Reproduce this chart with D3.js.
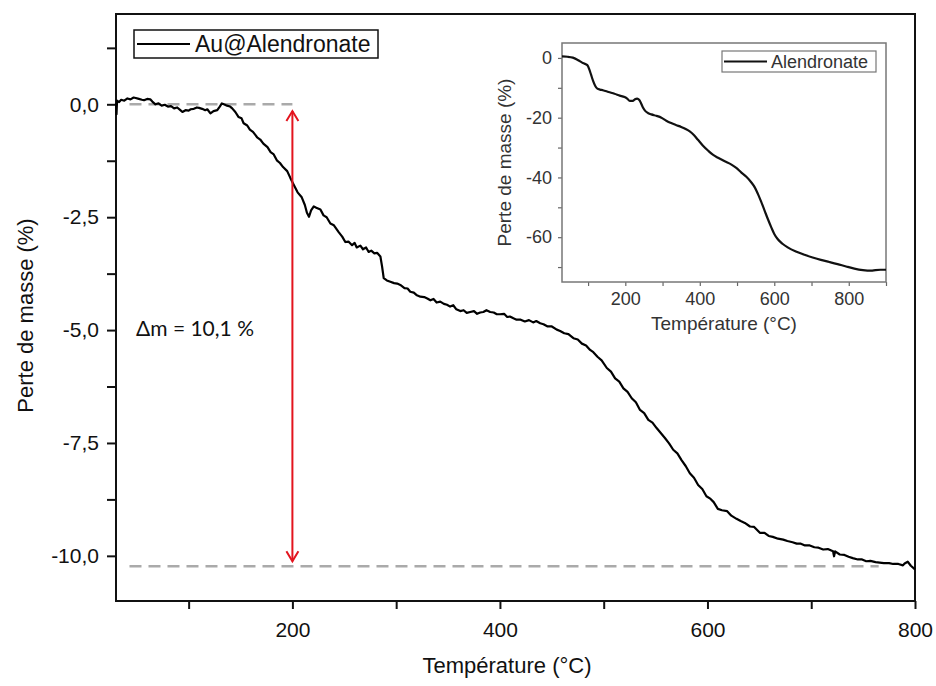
<!DOCTYPE html>
<html lang="fr">
  <head>
    <meta charset="UTF-8" />
    <title>ATG Au@Alendronate</title>
    <style>
      body { margin: 0; background: #fff; }
      svg { display: block; font-family: "Liberation Sans", Arial, sans-serif; }
    </style>
  </head>
  <body>
    <svg id="chart" width="936" height="686"></svg>
    <script src="https://cdn.jsdelivr.net/npm/d3@7"></script>
    <script>
      // courbe principale Au@Alendronate (T en °C, perte en %)
      const mainTemp = [30, 30.5, 31, 33, 35, 38, 41, 44, 47, 49, 52, 55, 57, 60, 63, 65, 68, 71, 74, 77, 80, 83, 86, 89, 92, 94, 97, 100, 102, 105, 108, 110, 113, 116, 118, 121, 124, 127.6, 130, 132, 134, 137, 140, 142, 145, 148, 151, 153, 156.5, 159, 162, 166, 169, 172, 176, 179, 182, 185, 188, 191, 195, 198, 201, 205, 209, 212, 214, 216, 218, 220.6, 223, 227, 230, 233, 236.6, 240, 244.6, 248, 251, 254, 257.5, 260, 262, 265.5, 268, 271, 273.5, 276, 279, 281.6, 284.8, 286.4, 288, 291, 294.4, 298, 301, 304, 308, 311, 313.6, 317, 320, 323.3, 327, 330, 333, 336, 339, 342.5, 346, 349, 352, 355, 358, 361.8, 365, 368, 371.4, 375, 378, 381, 384, 387, 390.6, 394, 397, 400, 404, 407, 409.6, 413, 416, 420, 424, 428, 432, 435, 438.8, 442, 446, 450, 454.8, 458, 462, 466, 470.8, 475, 479, 483, 486.9, 490, 494, 498, 503, 507, 511, 515, 519, 523, 527, 531, 535, 539, 543, 547, 551, 555, 559, 563, 567, 571, 575, 579, 583, 587, 591, 595, 599, 603, 606, 610, 614, 619, 623, 628, 632, 636, 641, 645, 650.5, 655, 659, 663, 668, 673, 677, 682, 686, 690, 694, 698.6, 703, 707, 711.5, 716, 721, 722, 723, 727.5, 732, 736, 740, 745, 749, 753, 757, 762, 766, 770, 775, 779, 784, 788.4, 790, 793, 796, 800];
      const mainMass = [0.02, -0.22, 0.08, 0.05, 0.10, 0.08, 0.13, 0.11, 0.15, 0.14, 0.12, 0.10, 0.09, 0.12, 0.11, 0.06, 0.0, 0.02, -0.03, -0.01, -0.05, -0.04, -0.09, -0.07, -0.13, -0.17, -0.13, -0.14, -0.11, -0.10, -0.07, -0.08, -0.10, -0.13, -0.11, -0.20, -0.15, -0.13, -0.05, 0.02, 0.0, -0.03, -0.05, -0.09, -0.17, -0.28, -0.31, -0.42, -0.47, -0.56, -0.61, -0.73, -0.78, -0.87, -0.95, -1.06, -1.11, -1.24, -1.30, -1.39, -1.48, -1.63, -1.77, -1.95, -2.06, -2.23, -2.40, -2.49, -2.35, -2.26, -2.29, -2.33, -2.46, -2.50, -2.64, -2.68, -2.83, -2.93, -3.05, -3.04, -3.12, -3.07, -3.17, -3.13, -3.21, -3.17, -3.27, -3.24, -3.30, -3.29, -3.37, -3.59, -3.85, -3.90, -3.93, -3.96, -3.97, -4.0, -4.07, -4.08, -4.15, -4.17, -4.23, -4.26, -4.27, -4.30, -4.34, -4.31, -4.39, -4.37, -4.42, -4.44, -4.48, -4.45, -4.54, -4.58, -4.56, -4.62, -4.60, -4.58, -4.64, -4.61, -4.60, -4.56, -4.60, -4.61, -4.65, -4.65, -4.64, -4.71, -4.70, -4.74, -4.77, -4.77, -4.81, -4.78, -4.83, -4.80, -4.85, -4.87, -4.92, -4.92, -4.99, -5.02, -5.07, -5.09, -5.18, -5.21, -5.30, -5.34, -5.44, -5.49, -5.59, -5.67, -5.84, -5.92, -6.07, -6.14, -6.29, -6.37, -6.51, -6.60, -6.77, -6.84, -6.99, -7.05, -7.17, -7.28, -7.39, -7.51, -7.65, -7.73, -7.88, -8.01, -8.17, -8.27, -8.43, -8.52, -8.68, -8.74, -8.81, -8.96, -8.99, -9.01, -9.11, -9.18, -9.23, -9.27, -9.35, -9.36, -9.49, -9.49, -9.56, -9.58, -9.62, -9.64, -9.67, -9.70, -9.73, -9.73, -9.77, -9.77, -9.81, -9.82, -9.86, -9.85, -9.90, -10.01, -9.90, -9.97, -9.98, -10.02, -10.05, -10.08, -10.08, -10.12, -10.11, -10.14, -10.15, -10.16, -10.16, -10.18, -10.18, -10.21, -10.17, -10.13, -10.22, -10.30];

      // encart : Alendronate seul
      const insetTemp = [30, 45, 59, 70, 77, 88, 98, 104, 108, 113, 119, 125, 132, 140, 155, 171, 185, 198, 205, 212, 220, 226, 232, 237, 241, 247, 254, 262, 270, 284, 297, 310, 323, 337, 350, 362, 373, 384, 395, 408, 422, 435, 449, 467, 485, 498, 511, 525, 538, 548, 556, 565, 574, 583, 592, 600, 609, 622, 636, 658, 681, 703, 725, 748, 770, 793, 815, 838, 860, 872, 885, 900];
      const insetMass = [0.5, 0.4, 0.1, -0.5, -1.0, -1.8, -2.4, -4.1, -5.6, -7.5, -9.3, -10.3, -10.6, -10.8, -11.4, -12.0, -12.6, -13.1, -13.6, -14.4, -14.4, -13.8, -13.6, -14.0, -14.8, -16.5, -17.8, -18.5, -18.9, -19.4, -20.0, -21.0, -21.8, -22.5, -23.1, -23.8, -24.6, -25.8, -27.4, -29.3, -31.0, -32.4, -33.4, -34.6, -35.7, -36.8, -38.3, -39.8, -41.6, -43.4, -45.5, -48.2, -51.1, -54.0, -56.7, -58.9, -60.6, -62.2, -63.4, -64.8, -65.9, -66.8, -67.6, -68.3, -69.0, -69.8, -70.5, -71.0, -71.2, -71.0, -70.9, -70.9];

      const mainXTicks = [100, 200, 300, 400, 500, 600, 700, 800];
      const mainYTicks = [1.25, 0, -1.25, -2.5, -3.75, -5, -6.25, -7.5, -8.75, -10];
      const insetXTicks = [100, 200, 300, 400, 500, 600, 700, 800, 900];
      const insetYTicks = [0, -10, -20, -30, -40, -50, -60, -70];

      // annotations
      const massStart = 0;        // palier haut
      const massEnd = -10.23;     // palier bas
      const arrowTemp = 200;
      const deltaLabel = "Δm = 10,1 %";

      const fr = d3.formatLocale({ decimal: ",", thousands: " ", grouping: [3], currency: ["", "€"], minus: "-" });
      const fmt1 = fr.format(".1f");
      const fmt0 = fr.format("d");

      const svg = d3.select("#chart");

      // ---- graphique principal ----
      const M = { left: 116, right: 915, top: 14, bottom: 601 };
      const x = d3.scaleLinear().domain([30, 800]).range([M.left, M.right]);
      const y = d3.scaleLinear().domain([-11, 2]).range([M.bottom, M.top]);

      const xAxis = d3.axisBottom(x).tickValues(mainXTicks).tickSize(8).tickPadding(13)
        .tickFormat(d => d % 200 === 0 ? d : "");
      const yAxis = d3.axisLeft(y).tickValues(mainYTicks).tickSize(9).tickPadding(8)
        .tickFormat(d => (d * 10) % 25 === 0 ? fmt1(d) : "");

      const gx = svg.append("g").attr("transform", `translate(0,${M.bottom})`).call(xAxis);
      const gy = svg.append("g").attr("transform", `translate(${M.left},0)`).call(yAxis);
      [gx, gy].forEach(g => {
        g.select(".domain").remove();
        g.selectAll(".tick line").attr("stroke", "#111").attr("stroke-width", 2);
        g.selectAll(".tick text").attr("fill", "#111").style("font-size", "21px");
      });

      svg.append("rect")
        .attr("x", M.left).attr("y", M.top)
        .attr("width", M.right - M.left).attr("height", M.bottom - M.top)
        .attr("fill", "none").attr("stroke", "#111").attr("stroke-width", 2);

      svg.append("text")
        .attr("x", 507).attr("y", 673)
        .attr("text-anchor", "middle").attr("fill", "#111")
        .style("font-size", "22px").text("Température (°C)");
      svg.append("text")
        .attr("transform", `translate(33,${(M.top + M.bottom) / 2 + 8}) rotate(-90)`)
        .attr("text-anchor", "middle").attr("fill", "#111")
        .style("font-size", "22px").text("Perte de masse (%)");

      // lignes pointillées grises
      svg.append("line")
        .attr("x1", x(43)).attr("x2", x(arrowTemp))
        .attr("y1", y(massStart)).attr("y2", y(massStart))
        .attr("stroke", "#aaa").attr("stroke-width", 2.5).attr("stroke-dasharray", "12,7");
      svg.append("line")
        .attr("x1", x(43)).attr("x2", x(765))
        .attr("y1", y(massEnd)).attr("y2", y(massEnd))
        .attr("stroke", "#aaa").attr("stroke-width", 2.5).attr("stroke-dasharray", "12,7");

      const mainLine = d3.line().x((d, i) => x(mainTemp[i])).y(d => y(d));
      svg.append("path").datum(mainMass)
        .attr("d", mainLine)
        .attr("fill", "none").attr("stroke", "#000").attr("stroke-width", 2.2)
        .attr("stroke-linejoin", "round");

      // flèche double rouge
      const ax = x(arrowTemp);
      const aTop = y(-0.15), aBot = y(-10.12);
      svg.append("line").attr("x1", ax).attr("x2", ax).attr("y1", aTop).attr("y2", aBot)
        .attr("stroke", "#e3141e").attr("stroke-width", 2);
      svg.append("path")
        .attr("d", `M${ax - 6},${aTop + 10} L${ax},${aTop} L${ax + 6},${aTop + 10} M${ax - 6},${aBot - 10} L${ax},${aBot} L${ax + 6},${aBot - 10}`)
        .attr("fill", "none").attr("stroke", "#e3141e").attr("stroke-width", 2);

      svg.append("text").attr("x", 136).attr("y", 336)
        .style("font-family", "Lato, 'Open Sans', sans-serif").style("font-size", "21px")
        .attr("fill", "#111").text(deltaLabel);

      // légende
      const lg = svg.append("g");
      lg.append("rect").attr("x", 134).attr("y", 30).attr("width", 244).attr("height", 28)
        .attr("fill", "#fff").attr("stroke", "#111").attr("stroke-width", 1.5);
      lg.append("line").attr("x1", 137).attr("x2", 190).attr("y1", 44).attr("y2", 44)
        .attr("stroke", "#000").attr("stroke-width", 2);
      lg.append("text").attr("x", 195).attr("y", 52).attr("fill", "#111")
        .style("font-size", "23px").text("Au@Alendronate");

      // ---- encart ----
      const I = { left: 562, right: 886, top: 43, bottom: 282 };
      const ix = d3.scaleLinear().domain([30, 900]).range([I.left, I.right]);
      const iy = d3.scaleLinear().domain([-75, 5]).range([I.bottom, I.top]);

      const gix = svg.append("g").attr("transform", `translate(0,${I.bottom})`)
        .call(d3.axisBottom(ix).tickValues(insetXTicks).tickSize(4).tickPadding(6)
          .tickFormat(d => d % 200 === 0 ? d : ""));
      const giy = svg.append("g").attr("transform", `translate(${I.left},0)`)
        .call(d3.axisLeft(iy).tickValues(insetYTicks).tickSize(4).tickPadding(6)
          .tickFormat(d => d % 20 === 0 ? fmt0(d) : ""));
      [gix, giy].forEach(g => {
        g.select(".domain").remove();
        g.selectAll(".tick line").attr("stroke", "#666").attr("stroke-width", 1.2);
        g.selectAll(".tick text").attr("fill", "#333").style("font-size", "18px");
      });

      svg.append("rect")
        .attr("x", I.left).attr("y", I.top)
        .attr("width", I.right - I.left).attr("height", I.bottom - I.top)
        .attr("fill", "none").attr("stroke", "#777").attr("stroke-width", 1.5);

      svg.append("text")
        .attr("x", (I.left + I.right) / 2).attr("y", 330)
        .attr("text-anchor", "middle").attr("fill", "#333")
        .style("font-size", "19px").text("Température (°C)");
      svg.append("text")
        .attr("transform", `translate(511,${(I.top + I.bottom) / 2}) rotate(-90)`)
        .attr("text-anchor", "middle").attr("fill", "#333")
        .style("font-size", "19px").text("Perte de masse (%)");

      const insetLine = d3.line().curve(d3.curveMonotoneX)
        .x((d, i) => ix(insetTemp[i])).y(d => iy(d));
      svg.append("path").datum(insetMass)
        .attr("d", insetLine)
        .attr("fill", "none").attr("stroke", "#111").attr("stroke-width", 2.2);

      const ilg = svg.append("g");
      ilg.append("rect").attr("x", 722).attr("y", 51).attr("width", 154).attr("height", 21)
        .attr("fill", "#fff").attr("stroke", "#777").attr("stroke-width", 1.2);
      ilg.append("line").attr("x1", 724).attr("x2", 767).attr("y1", 61.5).attr("y2", 61.5)
        .attr("stroke", "#111").attr("stroke-width", 2.2);
      ilg.append("text").attr("x", 771).attr("y", 68).attr("fill", "#333")
        .style("font-size", "18px").text("Alendronate");
    </script>
  </body>
</html>
